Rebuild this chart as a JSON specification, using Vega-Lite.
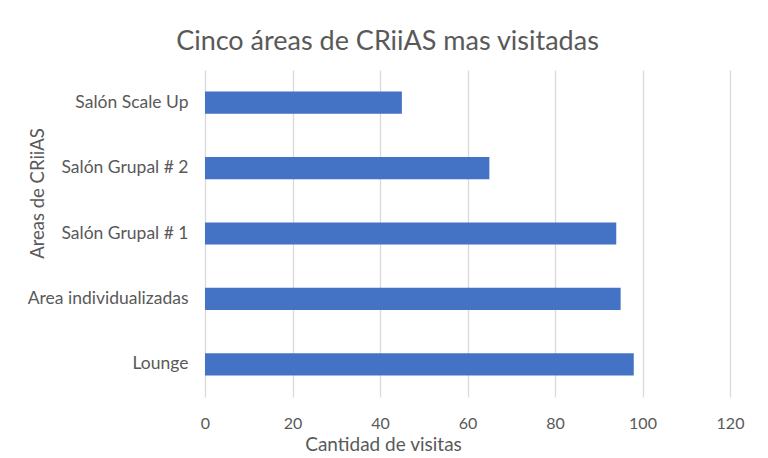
{
  "$schema": "https://vega.github.io/schema/vega-lite/v6.json",
  "width": 525,
  "height": 327,
  "autosize": {"type": "none"},
  "padding": {"left": 205, "top": 70, "right": 38, "bottom": 61},
  "background": "white",
  "title": {
    "text": "Cinco áreas de CRiiAS mas visitadas",
    "font": "Lato",
    "fontSize": 27,
    "fontWeight": "normal",
    "color": "#595959",
    "anchor": "middle",
    "dx": -80,
    "offset": 14
  },
  "data": {
    "values": [
      {"area": "Salón Scale Up", "visitas": 45},
      {"area": "Salón Grupal # 2", "visitas": 65},
      {"area": "Salón Grupal # 1", "visitas": 94},
      {"area": "Area individualizadas", "visitas": 95},
      {"area": "Lounge", "visitas": 98}
    ]
  },
  "mark": {"type": "bar", "color": "#4472C4"},
  "encoding": {
    "y": {
      "field": "area",
      "type": "nominal",
      "sort": ["Salón Scale Up", "Salón Grupal # 2", "Salón Grupal # 1", "Area individualizadas", "Lounge"],
      "scale": {"paddingInner": 0.66, "paddingOuter": 0.33},
      "axis": {
        "title": "Areas de CRiiAS",
        "titleFont": "Lato",
        "titleFontSize": 18.5,
        "titleFontWeight": "normal",
        "titleColor": "#595959",
        "titleX": -168,
        "titleY": 123,
        "titleAlign": "center",
        "titleBaseline": "middle",
        "titleAngle": -90,
        "labelFont": "Lato",
        "labelFontSize": 17.5,
        "labelColor": "#595959",
        "labelPadding": 17,
        "ticks": false,
        "domain": false,
        "grid": false
      }
    },
    "x": {
      "field": "visitas",
      "type": "quantitative",
      "scale": {"domain": [0, 120]},
      "axis": {
        "title": "Cantidad de visitas",
        "values": [0, 20, 40, 60, 80, 100, 120],
        "titleFont": "Lato",
        "titleFontSize": 19,
        "titleFontWeight": "normal",
        "titleColor": "#595959",
        "titleX": 178,
        "titleY": 53,
        "titleAlign": "center",
        "titleBaseline": "alphabetic",
        "labelFont": "Lato",
        "labelFontSize": 16,
        "labelColor": "#595959",
        "labelPadding": 18,
        "labelFlush": false,
        "ticks": false,
        "domain": false,
        "grid": true,
        "gridColor": "#d9d9d9",
        "gridWidth": 1.3
      }
    }
  },
  "config": {"view": {"stroke": null}}
}
